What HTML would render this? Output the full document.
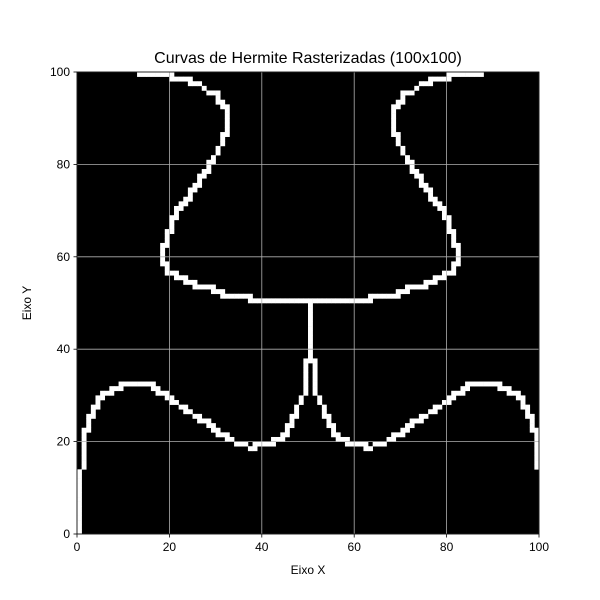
<!DOCTYPE html>
<html><head><meta charset="utf-8"><style>
body{margin:0;background:#fff}
svg{display:block;font-family:"Liberation Sans",sans-serif}
</style></head><body>
<svg id="c" width="600" height="600"></svg>
<script>
// Left-half curve control points (data coords); right half is mirrored about column 50
const upperCurve=[[13,99.6],[20,99.6],[21,98.6],[24,98.6],[25,97.4],[27,97],[28,96],[30,95.5],[31,93.5],[32,92.5],[32.5,89],[32.3,87],[31.5,85],[30.5,83],[29.5,81],[28.5,79.5],[27,77.5],[25.5,75],[24,73],[22.5,71],[21,69],[20.3,66.5],[19.5,64],[18.7,62],[18.7,59.3],[19.8,57],[21.5,56],[23.5,55],[25.5,54],[27.5,53.5],[30.5,52.8],[31.5,51.8],[37,51.8],[37.5,50.8],[50.5,50.8]];
const stem=[[50.5,50.8],[50.5,37.5]];
const lowerCurve=[[50.5,37.5],[49.5,37.5],[49.5,30.5],[48.5,29.5],[47.5,26.5],[46.5,24.5],[45.5,22.5],[44,21],[42,20],[40,19.2],[37.5,18.8],[36.5,19.2],[34,20],[32.5,21],[30.5,22.3],[29,23.5],[27,24.7],[25.5,25.7],[24,26.8],[23,27.7],[21,28.3],[20,29.8],[19,30.7],[17,31.2],[16,32.2],[13,32.2],[10.5,32.5],[9,31.8],[6.5,30.7],[5,29.5],[4,27.5],[3,25.8],[2.3,24.2],[1.7,21.5],[1.3,20.3],[1.3,14.5],[0.5,13.5],[0.5,0.2]];
const xTicks=[0,20,40,60,80,100];
const yTicks=[0,20,40,60,80,100];
const NS="http://www.w3.org/2000/svg";
const svg=document.getElementById('c');
const L=77,T=72,W=462,H=462,N=100,cw=W/N;
const sx=v=>L+v/N*W, sy=v=>T+H-v/N*H;
function mk(t,a,p){const e=document.createElementNS(NS,t);for(const k in a)e.setAttribute(k,a[k]);(p||svg).appendChild(e);return e;}
const bg=mk('rect',{x:L,y:T,width:W,height:H,fill:'#000'});


const cells=new Set();
function raster(pts,mirror){
  for(let i=0;i<pts.length-1;i++){
    const [x0,y0]=pts[i],[x1,y1]=pts[i+1];
    const n=Math.ceil(Math.hypot(x1-x0,y1-y0)*5)+1;
    for(let k=0;k<=n;k++){
      const x=x0+(x1-x0)*k/n,y=y0+(y1-y0)*k/n;
      let c=Math.min(99,Math.max(0,Math.floor(x)));
      const r=Math.min(99,Math.max(0,Math.floor(100-y)));
      if(mirror){c=100-c;if(c>99)continue;}
      cells.add(c+','+r);
    }
  }
}
raster(upperCurve,false);raster(upperCurve,true);
raster(stem,false);
raster(lowerCurve,false);raster(lowerCurve,true);
const g=mk('g',{});


cells.forEach(s=>{const [c,r]=s.split(',').map(Number);
  const e=mk('rect',{x:L+c*cw,y:T+r*cw,width:cw+0.3,height:cw+0.3,fill:'#fff'},g);
  
  
});
xTicks.forEach(v=>{
  const gl=mk('line',{x1:sx(v),x2:sx(v),y1:T,y2:T+H,stroke:'#b0b0b0','stroke-width':0.8});
  
  
  mk('line',{x1:sx(v),x2:sx(v),y1:T+H,y2:T+H+3.5,stroke:'#000','stroke-width':0.8});
  const t=mk('text',{x:sx(v),y:T+H+17,'text-anchor':'middle','font-size':12});t.textContent=v;
  
  
});
yTicks.forEach(v=>{
  const gl=mk('line',{x1:L,x2:L+W,y1:sy(v),y2:sy(v),stroke:'#b0b0b0','stroke-width':0.8});
  
  
  mk('line',{x1:L-3.5,x2:L,y1:sy(v),y2:sy(v),stroke:'#000','stroke-width':0.8});
  const t=mk('text',{x:L-7,y:sy(v)+4,'text-anchor':'end','font-size':12});t.textContent=v;
  
  
});
const fr=mk('rect',{x:L,y:T,width:W,height:H,fill:'none',stroke:'#000','stroke-width':0.8});


</script>
<svg style="position:absolute;left:0;top:0" width="600" height="600">
<text x="308" y="63" text-anchor="middle" font-size="16" font-family="Liberation Sans, sans-serif">Curvas de Hermite Rasterizadas (100x100)</text>
<text x="308" y="574" text-anchor="middle" font-size="12" font-family="Liberation Sans, sans-serif">Eixo X</text>
<text x="31" y="303" text-anchor="middle" font-size="12" font-family="Liberation Sans, sans-serif" transform="rotate(-90 31 303)">Eixo Y</text>
</svg>
</body></html>
